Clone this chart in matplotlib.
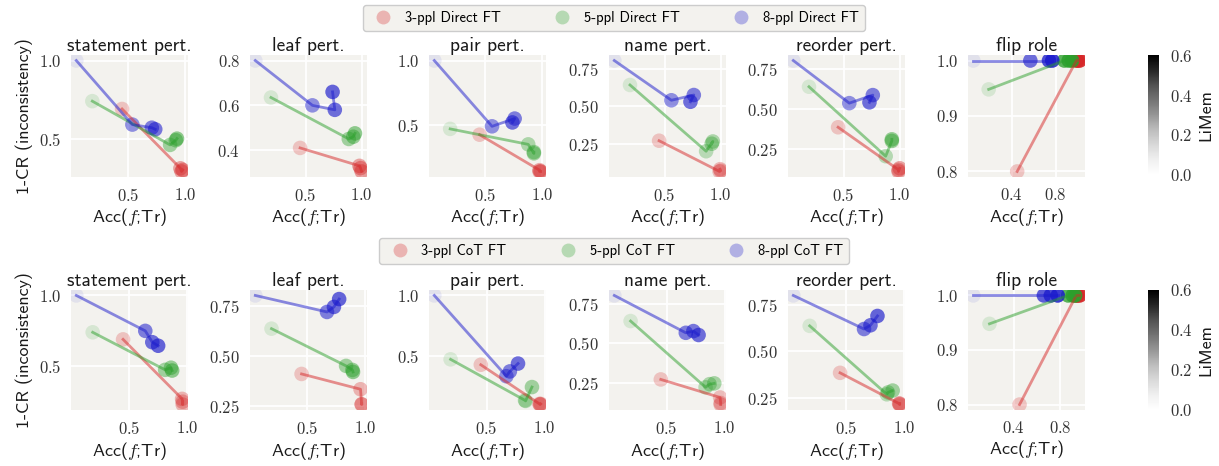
import matplotlib
matplotlib.use('Agg')
import matplotlib.pyplot as plt
import numpy as np
from matplotlib.lines import Line2D
from matplotlib.colors import Normalize, to_rgba
from matplotlib.cm import ScalarMappable
from matplotlib.ticker import FixedLocator, FuncFormatter

# fonts / style
plt.rcParams['font.family'] = 'cmss10'
plt.rcParams['mathtext.fontset'] = 'cm'
plt.rcParams['axes.unicode_minus'] = False
plt.rcParams['axes.formatter.use_mathtext'] = True

# data
panels = ["statement pert.", "leaf pert.", "pair pert.", "name pert.", "reorder pert.", "flip role"]
ppl = ["3-ppl", "5-ppl", "8-ppl"]
colors = ['#d62728', '#2ca02c', '#1a1acc']

# base model (before fine-tuning), same for both rows
base_acc = [0.45, 0.19, 0.05]
base_cons_3 = [0.69, 0.41, 0.425, 0.27, 0.385, 0.80]
base_cons_5 = [0.74, 0.635, 0.47, 0.642, 0.637, 0.948]
base_cons_8 = [1.0, 0.80, 1.0, 0.805, 0.80, 1.0]
base_limem = [0.1, 0.04, 0.0]

# Direct FT
direct_acc_3 = [[0.96, 0.97, 0.98], [0.98, 0.99, 1.0], [0.98, 0.98, 0.99], [0.99, 1.0, 0.995], [0.99, 0.99, 1.0], [0.99, 1.0, 1.02]]
direct_cons_3 = [[0.31, 0.29, 0.30], [0.33, 0.32, 0.305], [0.15, 0.14, 0.14], [0.065, 0.07, 0.08], [0.12, 0.11, 0.13], [1.0, 1.0, 1.0]]
direct_limem_3 = [[0.2, 0.2, 0.22], [0.2, 0.22, 0.22], [0.18, 0.18, 0.2], [0.12, 0.12, 0.14], [0.18, 0.18, 0.2], [0.5, 0.52, 0.55]]
direct_acc_5 = [[0.87, 0.92, 0.93], [0.885, 0.925, 0.94], [0.88, 0.93, 0.93], [0.87, 0.93, 0.92], [0.875, 0.93, 0.93], [0.88, 0.92, 0.95]]
direct_cons_5 = [[0.46, 0.49, 0.50], [0.45, 0.46, 0.475], [0.35, 0.28, 0.29], [0.20, 0.265, 0.25], [0.205, 0.30, 0.31], [1.0, 1.0, 1.0]]
direct_limem_5 = [[0.22, 0.25, 0.28], [0.22, 0.25, 0.28], [0.18, 0.2, 0.22], [0.14, 0.18, 0.2], [0.15, 0.25, 0.25], [0.45, 0.5, 0.52]]
direct_acc_8 = [[0.54, 0.71, 0.74], [0.56, 0.76, 0.74], [0.56, 0.76, 0.74], [0.56, 0.76, 0.73], [0.55, 0.76, 0.73], [0.57, 0.74, 0.77]]
direct_cons_8 = [[0.59, 0.57, 0.56], [0.60, 0.58, 0.66], [0.49, 0.55, 0.52], [0.54, 0.575, 0.53], [0.535, 0.585, 0.54], [1.0, 1.0, 1.0]]
direct_limem_8 = [[0.25, 0.3, 0.32], [0.25, 0.35, 0.38], [0.25, 0.3, 0.35], [0.25, 0.3, 0.35], [0.25, 0.3, 0.35], [0.35, 0.45, 0.5]]

# CoT FT
cot_acc_3 = [[0.955, 0.96, 0.96], [0.96, 0.97, 0.97], [0.955, 0.96, 0.965], [0.96, 0.965, 0.965], [0.955, 0.96, 0.96], [0.94, 0.95, 0.97]]
cot_cons_3 = [[0.27, 0.23, 0.25], [0.334, 0.258, 0.26], [0.10, 0.095, 0.10], [0.155, 0.12, 0.11], [0.22, 0.215, 0.22], [1.0, 1.0, 1.0]]
cot_limem_3 = [[0.15, 0.15, 0.16], [0.15, 0.15, 0.16], [0.15, 0.15, 0.16], [0.12, 0.12, 0.14], [0.15, 0.15, 0.16], [0.5, 0.52, 0.55]]
cot_acc_5 = [[0.81, 0.86, 0.87], [0.835, 0.89, 0.895], [0.83, 0.835, 0.89], [0.835, 0.87, 0.91], [0.85, 0.86, 0.9], [0.87, 0.91, 0.93]]
cot_cons_5 = [[0.475, 0.49, 0.47], [0.45, 0.43, 0.42], [0.13, 0.125, 0.24], [0.22, 0.24, 0.245], [0.27, 0.28, 0.29], [1.0, 1.0, 1.0]]
cot_limem_5 = [[0.22, 0.25, 0.28], [0.22, 0.25, 0.28], [0.12, 0.15, 0.22], [0.14, 0.18, 0.2], [0.15, 0.2, 0.22], [0.45, 0.5, 0.52]]
cot_acc_8 = [[0.64, 0.70, 0.75], [0.67, 0.73, 0.775], [0.67, 0.70, 0.77], [0.665, 0.73, 0.775], [0.655, 0.71, 0.77], [0.66, 0.72, 0.78]]
cot_cons_8 = [[0.75, 0.67, 0.645], [0.718, 0.743, 0.782], [0.33, 0.37, 0.435], [0.567, 0.578, 0.553], [0.62, 0.64, 0.69], [1.0, 1.0, 1.0]]
cot_limem_8 = [[0.3, 0.35, 0.38], [0.3, 0.35, 0.38], [0.25, 0.3, 0.35], [0.3, 0.32, 0.35], [0.3, 0.35, 0.38], [0.4, 0.45, 0.5]]

# tick marks per panel
xticks = [[0.5, 1.0]] * 5 + [[0.4, 0.8]]
direct_yticks = [[0.5, 1.0], [0.4, 0.6, 0.8], [0.5, 1.0], [0.25, 0.5, 0.75], [0.25, 0.5, 0.75], [0.8, 0.9, 1.0]]
cot_yticks = [[0.5, 1.0], [0.25, 0.5, 0.75], [0.5, 1.0], [0.25, 0.5, 0.75], [0.25, 0.5, 0.75], [0.8, 0.9, 1.0]]

rows = [
    ("Direct FT", [direct_acc_3, direct_acc_5, direct_acc_8],
     [direct_cons_3, direct_cons_5, direct_cons_8],
     [direct_limem_3, direct_limem_5, direct_limem_8], direct_yticks),
    ("CoT FT", [cot_acc_3, cot_acc_5, cot_acc_8],
     [cot_cons_3, cot_cons_5, cot_cons_8],
     [cot_limem_3, cot_limem_5, cot_limem_8], cot_yticks),
]
base_cons = [base_cons_3, base_cons_5, base_cons_8]

W, H = 1219, 466
fig = plt.figure(figsize=(W / 100, H / 100), dpi=100)
bg = '#f3f2ee'
vmax = 0.6


def px(x, y, w, h):
    return [x / W, 1 - (y + h) / H, w / W, h / H]


def fmt(ticks):
    nd = 2 if any(abs(round(t * 10) - t * 10) > 1e-6 for t in ticks) else 1
    return FuncFormatter(lambda v, p: f'${v:.{nd}f}$')


def alpha_of(L):
    return 0.08 + 0.92 * min(L / vmax, 1.0)


lefts = [71, 250, 429, 609, 788, 968]
tops = [55, 290]
heights = [122, 120]
legend_y = [18, 251]

for r, (name, accs, conss, limems, yticks) in enumerate(rows):
    for p in range(6):
        ax = fig.add_axes(px(lefts[p], tops[r], 117, heights[r]))
        ax.set_facecolor(bg)
        for s in ax.spines.values():
            s.set_visible(False)
        ax.grid(True, color='white', lw=1.3)
        ax.set_axisbelow(True)
        for k in range(3):
            xs = [base_acc[k]] + accs[k][p]
            ys = [base_cons[k][p]] + conss[k][p]
            ls = [base_limem[k]] + limems[k][p]
            cols = [to_rgba(colors[k], alpha_of(L)) for L in ls]
            ax.scatter(xs, ys, s=110, c=cols, edgecolors='none', zorder=2)
            ax.plot(xs, ys, color=colors[k], alpha=0.5, lw=2, zorder=3)
        ax.xaxis.set_major_locator(FixedLocator(xticks[p]))
        ax.yaxis.set_major_locator(FixedLocator(yticks[p]))
        ax.xaxis.set_major_formatter(fmt(xticks[p]))
        ax.yaxis.set_major_formatter(fmt(yticks[p]))
        ax.tick_params(length=0, pad=7, labelsize=12, colors='#333333')
        ax.set_title(panels[p], fontsize=14, pad=3, color='#1a1a1a')
        ax.set_xlabel(r'Acc($f$;Tr)', fontsize=13, labelpad=2, color='#1a1a1a')
        if p == 0:
            ax.set_ylabel('1-CR (inconsistency)', fontsize=13, color='#1a1a1a')

    handles = [Line2D([], [], marker='o', ls='none', markersize=10, markeredgewidth=0,
                      color=colors[k], alpha=0.3) for k in range(3)]
    labels = [f'{n} {name}' for n in ppl]
    fig.legend(handles, labels, loc='center', ncol=3, fontsize=10.5,
               bbox_to_anchor=(614 / W, 1 - legend_y[r] / H), frameon=True,
               facecolor='#f3f2ee', edgecolor='#cccccc', columnspacing=3.2,
               handletextpad=0.5, borderpad=0.4, framealpha=1)

    cax = fig.add_axes(px(1148, tops[r], 11, 120))
    cb = fig.colorbar(ScalarMappable(norm=Normalize(0, vmax), cmap='Greys'), cax=cax)
    cb.outline.set_visible(False)
    cb.set_ticks([0.0, 0.2, 0.4, 0.6])
    cb.ax.yaxis.set_major_formatter(fmt([0.2]))
    cb.ax.tick_params(length=0, pad=8, labelsize=12, colors='#333333')
    cb.set_label('LiMem', fontsize=13, color='#1a1a1a')

fig.savefig('out.png', dpi=100)
